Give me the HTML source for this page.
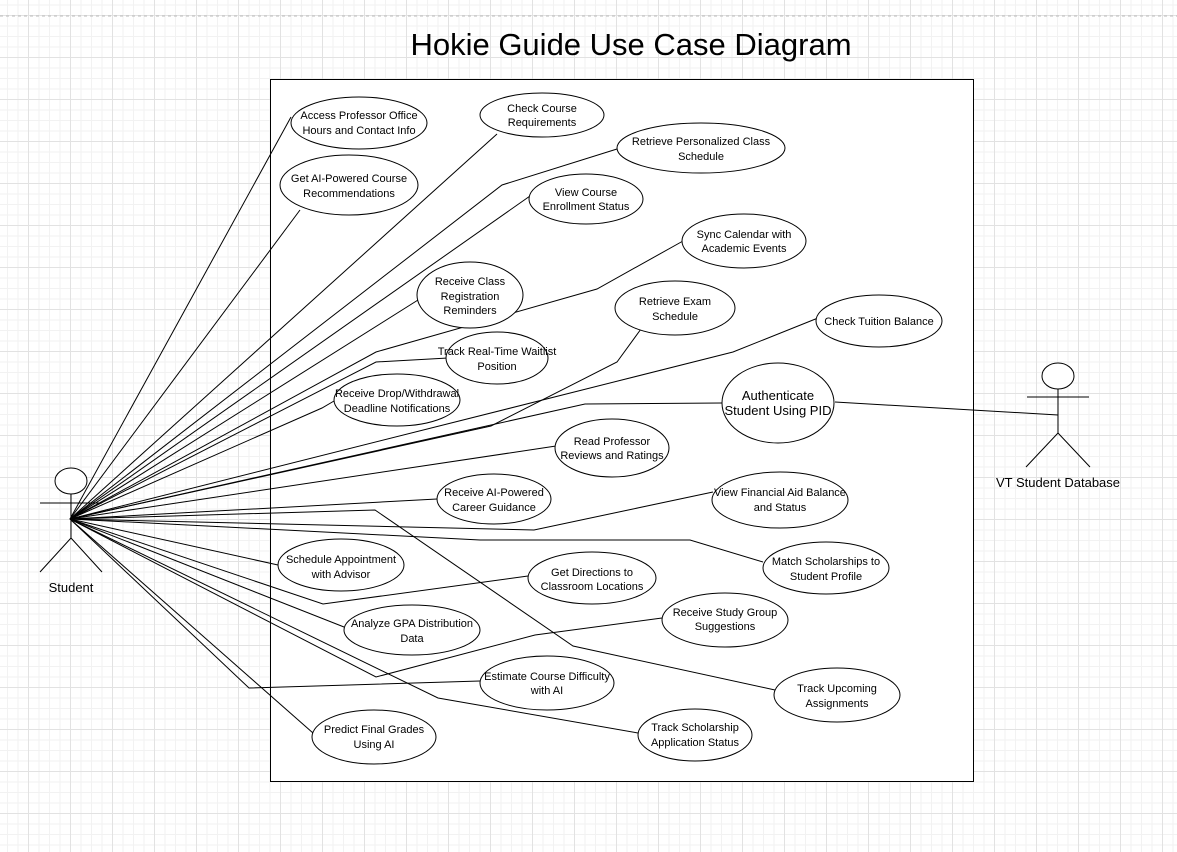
<!DOCTYPE html>
<html><head><meta charset="utf-8"><style>
html,body{margin:0;padding:0;}
body{width:1177px;height:852px;overflow:hidden;background-color:#fff;
background-image:
linear-gradient(to right,#e2e2e2 1px,transparent 1px),
linear-gradient(to bottom,#e2e2e2 1px,transparent 1px),
linear-gradient(to right,#f2f2f2 1px,transparent 1px),
linear-gradient(to bottom,#f2f2f2 1px,transparent 1px);
background-size:42px 42px,42px 42px,10.5px 10.5px,10.5px 10.5px;
background-position:28px 15px,28px 15px,28px 15px,28px 15px;}
svg{position:absolute;left:0;top:0;}
text{font-family:"Liberation Sans",Arial,sans-serif;font-size:11px;fill:#000;text-anchor:middle;}
</style></head><body>
<svg width="1177" height="852" viewBox="0 0 1177 852">
<line x1="0" y1="16" x2="1177" y2="16" stroke="#bbb" stroke-dasharray="3,3"/>
<text x="631" y="55" style="font-size:31px">Hokie Guide Use Case Diagram</text>
<rect x="270.5" y="79.5" width="703" height="702" fill="#fff" stroke="#000" stroke-width="1"/>
<g fill="none" stroke="#000" stroke-width="1">
<polyline points="70,519 291,117"/>
<polyline points="70,519 300,210"/>
<polyline points="70,519 497,134"/>
<polyline points="70,519 502,185 617,149"/>
<polyline points="70,519 530,196"/>
<polyline points="70,519 376,352 597,289 683,241"/>
<polyline points="70,519 418,300"/>
<polyline points="70,519 376,362 448,358"/>
<polyline points="70,519 491,426 617,362 641,329"/>
<polyline points="70,519 733,352 818,318"/>
<polyline points="70,519 322,408 334,401"/>
<polyline points="70,519 585,404 722,403"/>
<polyline points="70,519 556,446"/>
<polyline points="70,519 437,499"/>
<polyline points="70,519 375,510 573,646 775,690"/>
<polyline points="70,519 534,530 713,492"/>
<polyline points="70,519 480,540 690,540 763,562"/>
<polyline points="70,519 278,565"/>
<polyline points="70,519 323,604 528,576"/>
<polyline points="70,519 344,627"/>
<polyline points="70,519 376,677 535,635 662,618"/>
<polyline points="70,519 249,688 480,681"/>
<polyline points="70,519 438,698 638,733"/>
<polyline points="70,519 313,733"/>
<polyline points="835,402 1058,415"/>
</g>
<g fill="#fff" stroke="#000" stroke-width="1">
<ellipse cx="359" cy="123" rx="68" ry="26"/>
<ellipse cx="542" cy="115" rx="62" ry="22"/>
<ellipse cx="701" cy="148" rx="84" ry="25"/>
<ellipse cx="349" cy="185" rx="69" ry="30"/>
<ellipse cx="586" cy="199" rx="57" ry="25"/>
<ellipse cx="744" cy="241" rx="62" ry="27"/>
<ellipse cx="470" cy="295" rx="53" ry="33"/>
<ellipse cx="675" cy="308" rx="60" ry="27"/>
<ellipse cx="879" cy="321" rx="63" ry="26"/>
<ellipse cx="497" cy="358" rx="51" ry="26"/>
<ellipse cx="397" cy="400" rx="63" ry="26"/>
<ellipse cx="778" cy="403" rx="56" ry="40"/>
<ellipse cx="612" cy="448" rx="57" ry="29"/>
<ellipse cx="494" cy="499" rx="57" ry="25"/>
<ellipse cx="780" cy="500" rx="68" ry="28"/>
<ellipse cx="341" cy="565" rx="63" ry="26"/>
<ellipse cx="826" cy="568" rx="63" ry="26"/>
<ellipse cx="592" cy="578" rx="64" ry="26"/>
<ellipse cx="412" cy="630" rx="68" ry="25"/>
<ellipse cx="725" cy="620" rx="63" ry="27"/>
<ellipse cx="547" cy="683" rx="67" ry="27"/>
<ellipse cx="837" cy="695" rx="63" ry="27"/>
<ellipse cx="695" cy="735" rx="57" ry="26"/>
<ellipse cx="374" cy="737" rx="62" ry="27"/>
</g>
<g>
<text x="359" y="119">Access Professor Office</text><text x="359" y="134">Hours and Contact Info</text>
<text x="542" y="112">Check Course</text><text x="542" y="126">Requirements</text>
<text x="701" y="145">Retrieve Personalized Class</text><text x="701" y="160">Schedule</text>
<text x="349" y="182">Get AI-Powered Course</text><text x="349" y="197">Recommendations</text>
<text x="586" y="196">View Course</text><text x="586" y="210">Enrollment Status</text>
<text x="744" y="238">Sync Calendar with</text><text x="744" y="252">Academic Events</text>
<text x="470" y="285">Receive Class</text><text x="470" y="300">Registration</text><text x="470" y="314">Reminders</text>
<text x="675" y="305">Retrieve Exam</text><text x="675" y="320">Schedule</text>
<text x="879" y="325">Check Tuition Balance</text>
<text x="497" y="355">Track Real-Time Waitlist</text><text x="497" y="370">Position</text>
<text x="397" y="397">Receive Drop/Withdrawal</text><text x="397" y="412">Deadline Notifications</text>
<text x="778" y="400" style="font-size:13px">Authenticate</text><text x="778" y="415" style="font-size:13px">Student Using PID</text>
<text x="612" y="445">Read Professor</text><text x="612" y="459">Reviews and Ratings</text>
<text x="494" y="496">Receive AI-Powered</text><text x="494" y="511">Career Guidance</text>
<text x="780" y="496">View Financial Aid Balance</text><text x="780" y="511">and Status</text>
<text x="341" y="563">Schedule Appointment</text><text x="341" y="578">with Advisor</text>
<text x="826" y="565">Match Scholarships to</text><text x="826" y="580">Student Profile</text>
<text x="592" y="576">Get Directions to</text><text x="592" y="590">Classroom Locations</text>
<text x="412" y="627">Analyze GPA Distribution</text><text x="412" y="642">Data</text>
<text x="725" y="616">Receive Study Group</text><text x="725" y="630">Suggestions</text>
<text x="547" y="680">Estimate Course Difficulty</text><text x="547" y="694">with AI</text>
<text x="837" y="692">Track Upcoming</text><text x="837" y="707">Assignments</text>
<text x="695" y="731">Track Scholarship</text><text x="695" y="746">Application Status</text>
<text x="374" y="733">Predict Final Grades</text><text x="374" y="748">Using AI</text>
</g>
<g fill="#fff" stroke="#000" stroke-width="1">
<ellipse cx="71" cy="481" rx="16" ry="13"/>
<line x1="71" y1="494" x2="71" y2="538"/>
<line x1="40" y1="503" x2="102" y2="503"/>
<polyline points="40,572 71,538 102,572" fill="none"/>
<ellipse cx="1058" cy="376" rx="16" ry="13"/>
<line x1="1058" y1="389" x2="1058" y2="433"/>
<line x1="1027" y1="397" x2="1089" y2="397"/>
<polyline points="1026,467 1058,433 1090,467" fill="none"/>
</g>
<text x="71" y="592" style="font-size:13px">Student</text>
<text x="1058" y="487" style="font-size:13px">VT Student Database</text>
</svg>
</body></html>
